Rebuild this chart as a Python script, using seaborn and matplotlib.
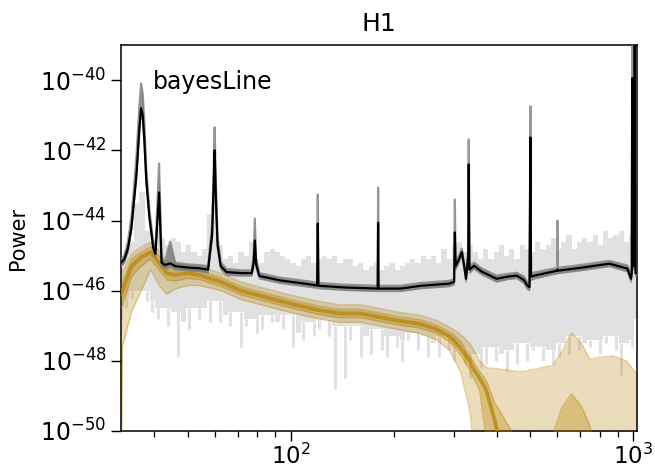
import numpy as np
import pandas as pd
import matplotlib
matplotlib.use("Agg")
import matplotlib.pyplot as plt
import seaborn as sns
from matplotlib.ticker import FixedLocator, NullLocator

# ---------------- data (log10 power) ----------------
# measured periodogram envelope, 100 log-spaced bins from 32 to 1024 Hz
data_hi = [-45.1, -44.9, -44.6, -43.5, -43.2, -44.3, -44.6, -44.2, -44.5, -44.7,
           -44.5, -44.6, -44.9, -44.7, -44.9, -45.0, -44.8, -43.8, -43.4, -44.7,
           -45.1, -45.0, -45.2, -44.9, -45.0, -44.6, -45.1, -45.2, -44.9, -44.8,
           -44.9, -45.0, -45.1, -45.2, -45.3, -45.1, -45.0, -45.2, -45.1, -45.0,
           -45.1, -45.0, -45.2, -45.1, -45.1, -45.3, -45.2, -45.4, -45.3, -45.2,
           -45.4, -45.3, -45.2, -45.4, -45.3, -45.2, -45.1, -45.2, -45.0, -45.1,
           -45.0, -45.2, -44.8, -45.1, -44.7, -44.6, -44.9, -44.7, -44.9, -45.1,
           -44.8, -45.1, -44.9, -44.7, -45.0, -44.8, -45.1, -44.7, -44.8, -44.9,
           -44.6, -44.8, -44.7, -44.5, -44.8, -44.6, -44.4, -44.8, -44.6, -44.5,
           -44.6, -44.4, -44.7, -44.3, -44.5, -44.4, -44.3, -44.6, -44.4, -44.7]
data_lo = [-46.8, -46.5, -46.2, -46.0, -46.0, -46.3, -46.6, -46.8, -46.5, -47.0,
           -46.6, -47.9, -46.9, -47.1, -46.5, -46.8, -46.5, -46.9, -46.3, -46.9,
           -46.7, -47.0, -46.6, -47.6, -47.0, -46.8, -47.2, -47.1, -46.7, -46.9,
           -46.9, -47.1, -46.7, -47.6, -47.2, -47.4, -46.9, -47.3, -47.1, -46.8,
           -47.3, -48.8, -47.0, -48.5, -47.4, -47.0, -47.9, -47.3, -47.8, -47.1,
           -47.7, -47.9, -47.3, -47.6, -48.0, -47.4, -47.2, -47.7, -47.3, -47.9,
           -47.5, -47.9, -47.3, -47.7, -48.0, -47.6, -48.1, -48.5, -47.8, -48.2,
           -48.1, -47.6, -48.0, -47.8, -48.3, -47.7, -48.1, -47.5, -48.0, -47.7,
           -47.6, -48.0, -47.7, -48.1, -47.9, -47.5, -47.8, -47.3, -47.7, -47.5,
           -47.6, -47.4, -47.8, -47.5, -47.3, -47.7, -48.4, -47.5, -47.6, -47.4]

# line model (BayesLine): frequency, median, upper quantile
line_freq = [32.0, 32.7, 33.5, 34.3, 35.0, 35.5, 36.2, 36.6, 37.0, 37.4, 37.9, 38.7, 39.7, 40.3,
             41.3, 42.0, 43.0, 44.5, 46.0, 50.0, 54.0, 57.4, 59.0, 59.6, 60.0, 60.5, 61.2, 62.5,
             65.0, 72.0, 77.0, 78.0, 78.6, 79.3, 81.0, 93.5, 110.0, 119.5, 120.0, 120.5, 145.0,
             179.5, 180.0, 180.5, 209.0, 240.0, 290.0, 300.0, 301.5, 303.0, 310.0, 316.0, 321.0,
             325.0, 330.0, 331.0, 332.5, 337.0, 343.0, 360.0, 399.0, 430.0, 457.0, 480.0, 490.0,
             498.0, 501.0, 503.0, 515.0, 600.0, 601.0, 602.0, 700.0, 851.0, 961.0, 985.0, 990.0,
             993.0, 996.0, 1005.0, 1010.0, 1015.0, 1024.0]
line_med = [-45.2, -45.1, -44.8, -44.2, -43.3, -42.66, -41.34, -40.8, -41.0, -41.7, -42.86, -43.9, -44.77, -44.95,
            -43.2, -45.2, -45.27, -45.22, -45.3, -45.34, -45.36, -45.4, -44.4, -43.0, -42.0, -43.4, -44.7, -45.3,
            -45.47, -45.5, -45.5, -45.2, -44.57, -45.25, -45.58, -45.71, -45.8, -45.85, -44.09, -45.86, -45.91,
            -45.94, -44.06, -45.94, -45.94, -45.86, -45.8, -45.75, -44.34, -45.3, -45.1, -44.9, -45.3,
            -45.66, -45.0, -42.4, -45.4, -45.35, -45.29, -45.45, -45.66, -45.6, -45.57, -45.7, -45.85,
            -45.9, -41.63, -45.6, -45.57, -45.43, -45.4, -45.43, -45.35, -45.23, -45.37, -45.66, -45.5,
            -39.94, -45.3, -45.3, -38.9, -45.5, -45.5]
line_hi = [-45.1, -45.0, -44.6, -43.9, -42.9, -42.1, -40.7, -40.09, -40.4, -41.2, -42.5, -43.7, -44.6, -44.85,
           -42.37, -45.1, -45.15, -44.6, -45.2, -45.25, -45.27, -45.3, -44.1, -42.5, -41.34, -42.9, -44.5, -45.2,
           -45.38, -45.42, -45.42, -45.0, -43.94, -45.1, -45.5, -45.63, -45.72, -45.77, -43.26, -45.78, -45.83,
           -45.86, -43.06, -45.86, -45.86, -45.78, -45.72, -45.67, -43.4, -45.2, -45.0, -44.8, -45.2,
           -45.56, -44.8, -41.69, -45.3, -45.25, -45.2, -45.36, -45.57, -45.52, -45.49, -45.6, -45.75,
           -45.8, -40.74, -45.5, -45.48, -45.35, -44.0, -45.35, -45.27, -45.15, -45.28, -45.55, -45.4,
           -38.9, -45.2, -45.2, -38.5, -45.4, -45.4]

# spline (broadband) model quantiles
spl_freq = [32.0, 32.3, 34.3, 36.6, 39.0, 41.3, 43.5, 46.0, 50.0, 54.0, 58.0, 62.6, 71.6, 81.8, 93.5,
            105.0, 120.0, 139.0, 160.0, 204.0, 239.0, 267.0, 290.0, 298.0, 314.0, 333.0, 338.0, 356.0,
            369.0, 374.0, 394.0, 407.0, 420.0, 442.0, 456.0, 480.0, 510.0, 560.0, 580.0, 585.0, 621.0,
            660.0, 706.0, 744.0, 753.0, 795.0, 870.0, 955.0, 1005.0, 1024.0]
spl_med = [-46.1, -46.0, -45.3, -45.05, -44.9, -45.2, -45.5, -45.55, -45.5, -45.55, -45.65, -45.75, -46.0,
           -46.15, -46.3, -46.42, -46.55, -46.65, -46.65, -46.85, -46.95, -47.1, -47.3, -47.4, -47.65,
           -48.0, -48.15, -48.5, -48.75, -48.9, -49.7, -50.3, -51.0, -52, -52, -52, -52, -52, -52, -52,
           -52, -52, -52, -52, -52, -52, -52, -52, -52, -52]
spl_50_hi = [-45.8, -45.75, -45.1, -44.9, -44.75, -45.0, -45.35, -45.42, -45.38, -45.43, -45.53, -45.63,
             -45.88, -46.03, -46.18, -46.3, -46.43, -46.53, -46.53, -46.73, -46.83, -46.98, -47.16, -47.25,
             -47.45, -47.85, -47.95, -48.3, -48.5, -48.6, -49.2, -49.4, -49.65, -50.0, -50.3, -50.8, -51.0,
             -50.6, -50.2, -50.0, -49.3, -48.94, -49.3, -49.8, -50.0, -50.6, -51.0, -51.0, -51.0, -51.0]
spl_50_lo = [-46.5, -46.4, -45.6, -45.3, -45.1, -45.4, -45.7, -45.72, -45.65, -45.68, -45.78, -45.88,
             -46.12, -46.27, -46.42, -46.54, -46.67, -46.77, -46.77, -46.97, -47.07, -47.22, -47.45, -47.55,
             -47.85, -48.25, -48.4, -48.85, -50.0, -50.5, -51.0, -52, -52, -52, -52, -52, -52, -52, -52,
             -52, -52, -52, -52, -52, -52, -52, -52, -52, -52, -52]
spl_90_hi = [-45.5, -45.45, -44.95, -44.75, -44.62, -44.85, -45.2, -45.25, -45.25, -45.3, -45.4, -45.5,
             -45.75, -45.9, -46.05, -46.17, -46.3, -46.4, -46.4, -46.6, -46.7, -46.85, -47.03, -47.1,
             -47.25, -47.5, -47.6, -48.0, -48.15, -48.2, -48.22, -48.23, -48.25, -48.28, -48.3, -48.3,
             -48.25, -48.16, -48.14, -48.1, -47.7, -47.2, -47.5, -47.94, -47.95, -47.9, -47.86, -48.0,
             -48.29, -48.35]
spl_90_lo = [-52.0, -47.6, -46.6, -46.0, -45.4, -45.85, -46.1, -45.95, -45.85, -45.85, -45.92, -46.0,
             -46.25, -46.4, -46.55, -46.67, -46.8, -46.9, -46.9, -47.1, -47.22, -47.4, -47.7, -47.9,
             -48.35, -49.4, -50.0, -51.0, -52, -52, -52, -52, -52, -52, -52, -52, -52, -52, -52, -52,
             -52, -52, -52, -52, -52, -52, -52, -52, -52, -52]

title = "H1"
ylabel = "Power"
model_label = "bayesLine"
ytick_exps = [-50, -48, -46, -44, -42, -40]

# ---------------- plotting ----------------
sns.set_style("ticks", {"axes.edgecolor": "black", "xtick.color": "black",
                        "ytick.color": "black", "text.color": "black", "axes.labelcolor": "black"})
plt.rcParams['font.family'] = ['DejaVu Sans']
plt.rcParams['mathtext.fontset'] = 'dejavusans'

fig = plt.figure(figsize=(6.55, 4.7), dpi=100)
ax = fig.add_axes([0.1849, 0.083, 0.7873, 0.8209])

P = lambda a: np.power(10.0, np.asarray(a, dtype=float))

# periodogram: solid core plus thin downward spikes
data_freq = np.geomspace(32, 1024, len(data_hi))
lo = np.asarray(data_lo)
core = np.maximum.reduce([lo, np.roll(lo, 1), np.roll(lo, -1)])
core = np.minimum(core, np.asarray(data_hi) - 0.3)
ax.fill_between(data_freq, P(core), P(data_hi), step='mid', color='#e1e1e1', lw=0, zorder=1)
ax.vlines(data_freq, P(data_lo), P(core), color='#e1e1e1', lw=2.2, zorder=1)

gold = '#b8860b'
sf = np.asarray(spl_freq)
ax.fill_between(sf, P(spl_90_lo), P(spl_90_hi), color=gold, alpha=0.28, lw=0, zorder=2)
for arr in (spl_90_hi, spl_90_lo):
    sns.lineplot(x=sf, y=P(arr), ax=ax, color=gold, alpha=0.35, lw=1.0, zorder=2, sort=False)
ax.fill_between(sf, P(spl_50_lo), P(spl_50_hi), color=gold, alpha=0.35, lw=0, zorder=3)
for arr in (spl_50_hi, spl_50_lo):
    sns.lineplot(x=sf, y=P(arr), ax=ax, color=gold, alpha=0.4, lw=1.0, zorder=3, sort=False)
sns.lineplot(x=sf, y=P(spl_med), ax=ax, color=gold, alpha=0.75, lw=2.8, zorder=4, sort=False)

lf = np.asarray(line_freq)
lmed = np.asarray(line_med)
lhi = np.asarray(line_hi)
llo = lmed - (lhi - lmed).clip(max=0.1)
ax.fill_between(lf, P(llo), P(lhi), color='#707070', alpha=0.75, lw=0, zorder=5)
sns.lineplot(x=lf, y=P(lhi), ax=ax, color='#808080', alpha=0.8, lw=1.6, zorder=5, sort=False)
sns.lineplot(x=lf, y=P(llo), ax=ax, color='#808080', alpha=0.6, lw=1.2, zorder=5, sort=False)
sns.lineplot(x=lf, y=P(lmed), ax=ax, color='black', lw=1.6, zorder=6, sort=False)

ax.set_xscale('log')
ax.set_yscale('log')
ax.set_xlim(32, 1024)
ax.set_ylim(1e-50, 1e-39)
ax.yaxis.set_major_locator(FixedLocator([10.0 ** e for e in ytick_exps]))
ax.yaxis.set_minor_locator(NullLocator())
ax.tick_params(axis='y', which='major', labelsize=17, length=7, width=1.0)
ax.tick_params(axis='x', which='major', labelsize=16.5, length=7, width=1.0, pad=2)
ax.tick_params(axis='x', which='minor', length=4, width=0.9)
for s in ax.spines.values():
    s.set_linewidth(1.1)
ax.set_title(title, fontsize=18, pad=10)
ax.set_ylabel(ylabel, fontsize=15, labelpad=9)
ax.set_xlabel('')
ax.text(0.062, 0.905, model_label, transform=ax.transAxes, fontsize=17, va='center', ha='left')

fig.savefig('out.png', dpi=100)
